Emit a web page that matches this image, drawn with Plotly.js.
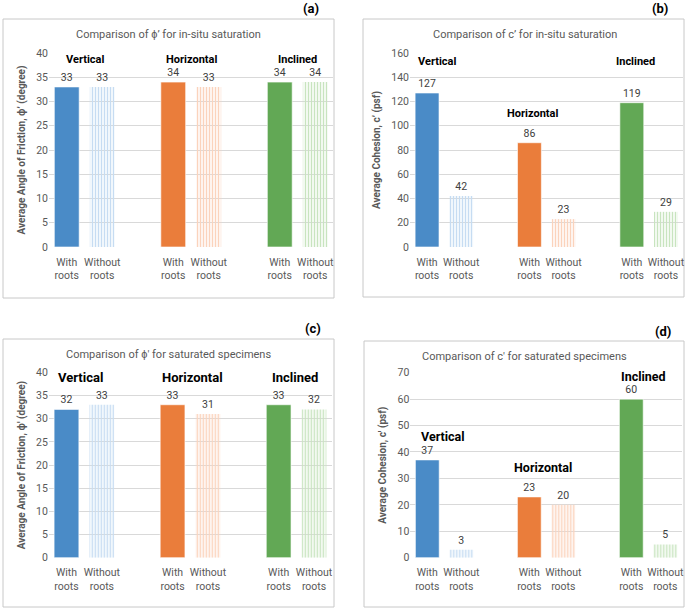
<!DOCTYPE html>
<html><head><meta charset="utf-8">
<script src="https://cdn.plot.ly/plotly-3.0.1.min.js"></script>
<style>html,body{margin:0;padding:0;background:#fff}#chart{width:685px;height:608px}</style>
</head><body><div id="chart"></div>
<script>
const groups = ['Vertical', 'Horizontal', 'Inclined'];
const tickLabels = ['With<br>roots', 'Without<br>roots'];
const aWith = [33, 34, 34];
const aWithout = [33, 33, 34];
const bWith = [127, 86, 119];
const bWithout = [42, 23, 29];
const cWith = [32, 33, 33];
const cWithout = [33, 31, 32];
const dWith = [37, 23, 60];
const dWithout = [3, 20, 5];

const FONT = 'Roboto, Arial, sans-serif';
const solid = ['#4a8bc7', '#ea7d3b', '#62a855'];
const fg = ['#7aaee0', '#f29c6c', '#86c075'];
const bg = ['#c6dcf2', '#fbd3bc', '#c8e4bf'];

const W = 685, H = 608;
const panels = [
  {key:'', wi:aWith, wo:aWithout, max:40, dtick:5, x:[49,333], y:[53,247],
   title:'Comparison of ϕ’ for in-situ saturation', titleY:34, titleX:168,
   ytitle:'Average Angle of Friction, ϕ’ (degree)', tag:'(a)', tagX:311, tagY:8,
   box:[3,19,334,298], labY:[38.7,38.7,38.7], labX:[0.5,3.5,6.5], labSize:11},
  {key:'2', wi:bWith, wo:bWithout, max:160, dtick:20, x:[410,683], y:[53,247],
   title:'Comparison of c’ for in-situ saturation', titleY:34, titleX:525,
   ytitle:'Average Cohesion, c’ (psf)', tag:'(b)', tagX:660, tagY:8,
   box:[363,19,684,297], labY:[152.6,110.5,152.6], labX:[0.3,3.1,6.1], labSize:11},
  {key:'3', wi:cWith, wo:cWithout, max:40, dtick:5, x:[48.8,331.7], y:[372.3,557.7],
   title:"Comparison of ϕ' for saturated specimens", titleY:354, titleX:168,
   ytitle:"Average Angle of Friction, ϕ' (degree)", tag:'(c)', tagX:313, tagY:329,
   box:[3,339,334,607], labY:[38.8,38.8,38.8], labX:[0.4,3.55,6.45], labSize:13},
  {key:'4', wi:dWith, wo:dWithout, max:70, dtick:10, x:[410.3,682.3], y:[372.7,557.7],
   title:"Comparison of c' for saturated specimens", titleY:356, titleX:524,
   ytitle:"Average Cohesion, c' (psf)", tag:'(d)', tagX:663, tagY:331,
   box:[364,341,684,607], labY:[46,34.3,68.7], labX:[0.45,3.4,6.35], labSize:12.5}
];

const data = [];
const layout = {
  width: W, height: H, margin:{l:0,r:0,t:0,b:0}, showlegend:false,
  paper_bgcolor:'#fff', plot_bgcolor:'#fff', barmode:'overlay',
  font:{family:FONT, color:'#595959'},
  annotations:[], shapes:[]
};
const tickvals = [], ticktext = [];
groups.forEach((g,i)=>{ tickvals.push(i*3, i*3+1); ticktext.push(tickLabels[0], tickLabels[1]); });

panels.forEach(p=>{
  const xa = 'x'+p.key, ya = 'y'+p.key;
  const withX = groups.map((g,i)=>i*3), withoutX = groups.map((g,i)=>i*3+1);
  data.push({type:'bar', x:withX, y:p.wi, xaxis:xa, yaxis:ya, width:0.7,
    marker:{color:solid, line:{color:'rgba(255,255,255,0.6)', width:1}},
    text:p.wi.map(String), textposition:'outside', constraintext:'none', cliponaxis:false,
    textfont:{size:10.5, color:'#404040', family:FONT}, hoverinfo:'skip'});
  data.push({type:'bar', x:withoutX, y:p.wo, xaxis:xa, yaxis:ya, width:0.7,
    marker:{color:bg, line:{width:0}, pattern:{shape:'|', fgcolor:fg, bgcolor:bg, size:3, solidity:0.5}},
    text:p.wo.map(String), textposition:'outside', constraintext:'none', cliponaxis:false,
    textfont:{size:10.5, color:'#404040', family:FONT}, hoverinfo:'skip'});
  const axX = 'xaxis'+p.key, axY = 'yaxis'+p.key;
  layout[axX] = {domain:[p.x[0]/W, p.x[1]/W], range:[-0.5,7.5], anchor:ya,
    tickvals:tickvals, ticktext:ticktext, tickangle:0, showgrid:false, zeroline:false, showline:false,
    ticks:'', ticklabelstandoff:7, tickfont:{size:10.5, color:'#595959'}, fixedrange:true};
  layout[axY] = {domain:[1-p.y[1]/H, 1-p.y[0]/H], range:[0,p.max], dtick:p.dtick, anchor:xa,
    showgrid:true, gridcolor:'#d9d9d9', gridwidth:1, zeroline:false, showline:false, ticks:'',
    tickfont:{size:10.5, color:'#595959'}, fixedrange:true,
    title:{text:'<b>'+p.ytitle+'</b>', font:{size:10, color:'#595959'}, standoff:8}};
  layout.annotations.push({xref:'paper', yref:'paper', x:p.titleX/W, y:1-p.titleY/H,
    text:p.title, showarrow:false, xanchor:'center', yanchor:'middle',
    font:{size:11, color:'#595959'}});
  layout.annotations.push({xref:'paper', yref:'paper', x:p.tagX/W, y:1-p.tagY/H,
    text:'<b>'+p.tag+'</b>', showarrow:false, xanchor:'center', yanchor:'middle',
    font:{size:13, color:'#000'}});
  groups.forEach((g,i)=>{
    layout.annotations.push({xref:xa, yref:ya, x:p.labX[i], y:p.labY[i], text:'<b>'+g+'</b>',
      showarrow:false, xanchor:'center', yanchor:'middle', font:{size:p.labSize, color:'#000'}});
  });
  layout.shapes.push({type:'rect', xref:'paper', yref:'paper', x0:p.box[0]/W, x1:p.box[2]/W,
    y0:1-p.box[3]/H, y1:1-p.box[1]/H, line:{color:'#c8c8c8', width:1}, fillcolor:'rgba(0,0,0,0)', layer:'below'});
});

Plotly.newPlot('chart', data, layout, {staticPlot:true});
</script></body></html>
